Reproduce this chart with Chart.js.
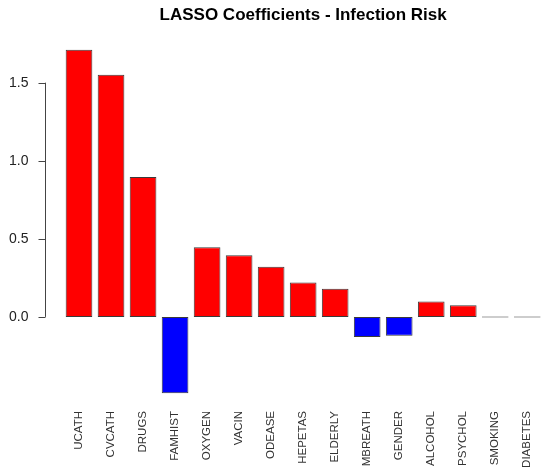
<!DOCTYPE html>
<html>
<head>
<meta charset="utf-8">
<title>LASSO Coefficients - Infection Risk</title>
<script src="https://cdn.jsdelivr.net/npm/chart.js@4"></script>
<style>
  html, body { margin: 0; padding: 0; background: #fff; }
  #wrap { width: 550px; height: 476px; }
</style>
</head>
<body>
<div id="wrap"><canvas id="lassoChart" width="550" height="476"></canvas></div>
<script>
const predictors = ['UCATH', 'CVCATH', 'DRUGS', 'FAMHIST', 'OXYGEN', 'VACIN', 'ODEASE',
                    'HEPETAS', 'ELDERLY', 'MBREATH', 'GENDER', 'ALCOHOL', 'PSYCHOL', 'SMOKING', 'DIABETES'];
const coefficients = [1.711, 1.551, 0.896, -0.489, 0.446, 0.395, 0.322,
                      0.221, 0.181, -0.128, -0.120, 0.098, 0.075, 0, 0];
const yTicks = [0, 0.5, 1.0, 1.5];

const FONT = "'Liberation Sans', Arial, sans-serif";

// R style axis: line only spans the first to last tick, detached from the bars
const rAxis = {
    id: 'rAxis',
    afterDraw(chart) {
        const y = chart.scales.y;
        const ctx = chart.ctx;
        const x0 = chart.chartArea.left - 17.5;
        ctx.save();
        ctx.strokeStyle = '#444';
        ctx.lineWidth = 1;
        ctx.beginPath();
        ctx.moveTo(x0, y.getPixelForValue(yTicks[0]));
        ctx.lineTo(x0, y.getPixelForValue(yTicks[yTicks.length - 1]));
        yTicks.forEach(function(v) {
            const py = Math.round(y.getPixelForValue(v)) + 0.5;
            ctx.moveTo(x0, py);
            ctx.lineTo(x0 - 7, py);
        });
        ctx.stroke();
        ctx.restore();
    }
};

const ctx = document.getElementById('lassoChart').getContext('2d');
new Chart(ctx, {
    type: 'bar',
    data: {
        labels: predictors,
        datasets: [{
            data: coefficients,
            backgroundColor: coefficients.map(v => v < 0 ? '#0000ff' : '#ff0000'),
            borderColor: '#3a3a3a',
            borderWidth: 1,
            borderSkipped: false,
            minBarLength: 1,
            barPercentage: 0.833,
            categoryPercentage: 1
        }]
    },
    options: {
        responsive: false,
        animation: false,
        devicePixelRatio: 1,
        layout: { padding: { left: 9, right: 6.7, top: 0, bottom: 0 } },
        plugins: {
            legend: { display: false },
            tooltip: { enabled: false },
            title: {
                display: true,
                text: 'LASSO Coefficients - Infection Risk',
                fullSize: false,
                color: '#000',
                font: { family: FONT, size: 17, weight: 'bold', lineHeight: 1.2 },
                padding: { top: 5, bottom: 10.6 }
            }
        },
        scales: {
            x: {
                offset: true,
                grid: { display: false, drawTicks: false },
                border: { display: false },
                ticks: {
                    color: '#333',
                    font: { family: FONT, size: 11.5 },
                    minRotation: 90,
                    maxRotation: 90,
                    autoSkip: false,
                    padding: 4
                },
                afterFit(scale) { scale.height = 69; }
            },
            y: {
                min: -0.577,
                max: 1.799,
                grid: { display: false, drawTicks: false },
                border: { display: false },
                afterBuildTicks(scale) { scale.ticks = yTicks.map(v => ({ value: v })); },
                ticks: {
                    color: '#222',
                    font: { family: FONT, size: 14 },
                    padding: 0,
                    crossAlign: 'far',
                    callback: v => Number(v).toFixed(1)
                },
                afterFit(scale) { scale.width = 54; }
            }
        }
    },
    plugins: [rAxis]
});
</script>
</body>
</html>
